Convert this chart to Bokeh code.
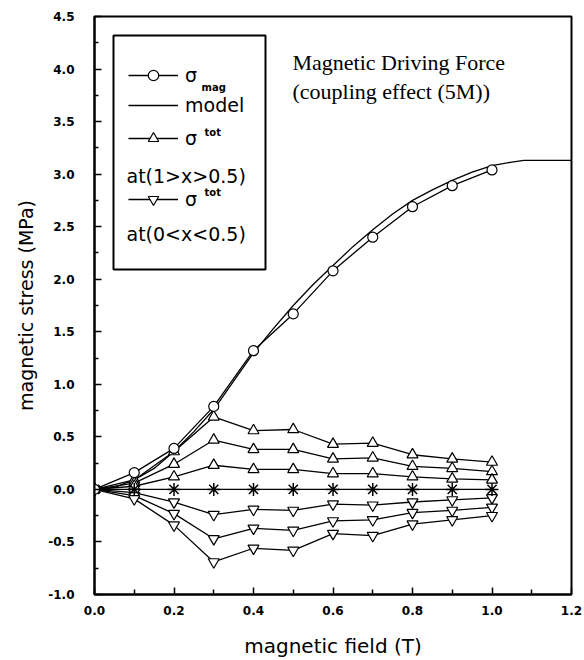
from bokeh.plotting import figure
from bokeh.models import Range1d, FixedTicker, Legend, LegendItem, Label, BoxAnnotation
from bokeh.embed import file_html
from bokeh.resources import INLINE

# ---- data -------------------------------------------------------------
# applied magnetic field (T) at the measured points
field = [0.0, 0.1, 0.2, 0.3, 0.4, 0.5, 0.6, 0.7, 0.8, 0.9, 1.0]

# magnetic stress sigma_mag (MPa)
sigma_mag = [0.0, 0.16, 0.39, 0.79, 1.32, 1.67, 2.08, 2.40, 2.69, 2.89, 3.04]

# model curve
model_field = [0.0, 0.05, 0.1, 0.15, 0.2, 0.25, 0.3, 0.35, 0.4, 0.45, 0.5, 0.55,
               0.6, 0.65, 0.7, 0.75, 0.8, 0.85, 0.9, 0.95, 1.0, 1.05, 1.08, 1.2]
model_stress = [0.0, 0.02, 0.09, 0.20, 0.36, 0.55, 0.76, 1.03, 1.30, 1.53, 1.75, 1.95,
                2.13, 2.31, 2.47, 2.62, 2.75, 2.85, 2.94, 3.02, 3.08, 3.115, 3.13, 3.13]

# total stress sigma_tot for 1 > x > 0.5
tot_upper = [
    [0.0, 0.09, 0.36, 0.69, 0.56, 0.57, 0.43, 0.44, 0.33, 0.29, 0.26],
    [0.0, 0.06, 0.24, 0.47, 0.38, 0.38, 0.29, 0.30, 0.22, 0.20, 0.17],
    [0.0, 0.03, 0.12, 0.23, 0.19, 0.19, 0.15, 0.15, 0.12, 0.10, 0.09],
]
# total stress at x = 0.5
tot_half = [0.0, 0.0, 0.0, 0.0, 0.0, 0.0, 0.0, 0.0, 0.0, 0.0, 0.0]
# total stress sigma_tot for 0 < x < 0.5
tot_lower = [
    [0.0, -0.03, -0.12, -0.24, -0.19, -0.20, -0.14, -0.15, -0.12, -0.10, -0.08],
    [0.0, -0.06, -0.23, -0.47, -0.37, -0.39, -0.30, -0.29, -0.22, -0.20, -0.17],
    [0.0, -0.09, -0.34, -0.69, -0.56, -0.58, -0.42, -0.44, -0.33, -0.29, -0.25],
]

x_ticks = [0.0, 0.2, 0.4, 0.6, 0.8, 1.0, 1.2]
x_tick_labels = ["0.0", "0.2", "0.4", "0.6", "0.8", "1.0", "1.2"]
y_ticks = [-1.0, -0.5, 0.0, 0.5, 1.0, 1.5, 2.0, 2.5, 3.0, 3.5, 4.0, 4.5]
y_tick_labels = ["-1.0", "-0.5", "0.0", "0.5", "1.0", "1.5", "2.0", "2.5",
                 "3.0", "3.5", "4.0", "4.5"]

# ---- layout -----------------------------------------------------------
W, H = 584, 660
FRAME_LEFT, FRAME_RIGHT, FRAME_TOP, FRAME_BOTTOM = 94, 571, 16, 594
X0, X1 = 0.0, 1.2
Y0, Y1 = -1.0, 4.5


def dx(px):
    """canvas pixel column -> field value"""
    return X0 + (px - FRAME_LEFT) * (X1 - X0) / (FRAME_RIGHT - FRAME_LEFT)


def dy(py):
    """canvas pixel row -> stress value"""
    return Y1 - (py - FRAME_TOP) * (Y1 - Y0) / (FRAME_BOTTOM - FRAME_TOP)


p = figure(width=W, height=H, output_backend="svg", toolbar_location=None,
           x_range=Range1d(X0, X1), y_range=Range1d(Y0, Y1),
           min_border_left=FRAME_LEFT, min_border_right=W - FRAME_RIGHT,
           min_border_top=FRAME_TOP, min_border_bottom=H - FRAME_BOTTOM)
p.grid.visible = False
p.outline_line_color = "black"
p.outline_line_width = 2
p.background_fill_color = "white"
p.border_fill_color = "white"

minor_x = [v / 10 for v in range(1, 12, 2)]
minor_y = [y_ticks[i] + 0.25 for i in range(len(y_ticks) - 1)]
p.xaxis.ticker = FixedTicker(ticks=x_ticks, minor_ticks=minor_x)
p.yaxis.ticker = FixedTicker(ticks=y_ticks, minor_ticks=minor_y)
p.xaxis.major_label_overrides = dict(zip(x_ticks, x_tick_labels))
p.yaxis.major_label_overrides = dict(zip(y_ticks, y_tick_labels))

for ax in (p.xaxis[0], p.yaxis[0]):
    ax.axis_line_width = 2
    ax.axis_line_color = "black"
    ax.major_tick_in = 7
    ax.major_tick_out = 0
    ax.minor_tick_in = 5
    ax.minor_tick_out = 0
    ax.major_tick_line_width = 1.5
    ax.minor_tick_line_width = 1.5
    ax.major_label_text_font = "DejaVu Sans"
    ax.major_label_text_font_style = "bold"
    ax.major_label_text_font_size = "12px"
    ax.major_label_text_color = "black"
    ax.axis_label_text_font = "DejaVu Sans"
    ax.axis_label_text_font_style = "normal"
    ax.axis_label_text_color = "black"
p.yaxis.minor_tick_in = 4
p.xaxis.major_label_standoff = 11
p.yaxis.major_label_standoff = 20
p.xaxis.axis_label = "magnetic field (T)"
p.yaxis.axis_label = "magnetic stress (MPa)"
p.xaxis.axis_label_text_font_size = "20px"
p.yaxis.axis_label_text_font_size = "19px"
p.xaxis.axis_label_standoff = 16
p.yaxis.axis_label_standoff = 8

LW = 1.3
MARK = dict(line_color="black", fill_color="white", line_width=1.2)

# model curve
model_line = p.line(model_field, model_stress, line_color="black", line_width=LW)

# total stress families
upper_r = []
for ys in tot_upper:
    ln = p.line(field, ys, line_color="black", line_width=LW)
    mk = p.scatter(field, ys, marker="triangle", size=11, **MARK)
    upper_r.append((ln, mk))
lower_r = []
for ys in tot_lower:
    ln = p.line(field, ys, line_color="black", line_width=LW)
    mk = p.scatter(field, ys, marker="inverted_triangle", size=11, **MARK)
    lower_r.append((ln, mk))
p.line(field, tot_half, line_color="black", line_width=LW)
p.scatter(field, tot_half, marker="asterisk", size=13, line_color="black", line_width=1.5)

# magnetic stress
mag_line = p.line(field, sigma_mag, line_color="black", line_width=LW)
mag_pts = p.scatter(field, sigma_mag, marker="circle", size=10, **MARK)

# ---- legend -----------------------------------------------------------
KEY_LEFT, KEY_W, KEY_H = 128, 50, 26


def key_row(renderers, label, center_py):
    leg = Legend(items=[LegendItem(label=label, renderers=list(renderers))],
                 location=(KEY_LEFT - FRAME_LEFT, FRAME_BOTTOM - center_py - KEY_H // 2),
                 glyph_width=KEY_W, glyph_height=KEY_H, label_height=KEY_H,
                 label_standoff=7, padding=0, margin=0, spacing=0,
                 border_line_color=None, background_fill_alpha=0,
                 label_text_font="DejaVu Sans", label_text_font_size="19px",
                 label_text_color="black")
    p.add_layout(leg)


key_row([mag_line, mag_pts], "σ", 75)
key_row([model_line], "model", 105)
key_row(upper_r[0], "σ", 138)
key_row(lower_r[0], "σ", 199)

p.add_layout(BoxAnnotation(left=dx(113), right=dx(265), top=dy(35), bottom=dy(269),
                           fill_alpha=0, line_color="black", line_alpha=1, line_width=2))


def text(px, py, s, size, font="DejaVu Sans", style="normal"):
    p.add_layout(Label(x=dx(px), y=dy(py), text=s, text_font=font,
                       text_font_size=size, text_font_style=style,
                       text_baseline="middle", text_align="left", text_color="black"))


text(201, 87, "mag", "10px", style="bold")
text(204, 132, "tot", "10px", style="bold")
text(204, 192, "tot", "10px", style="bold")
text(126, 175, "at(1>x>0.5)", "19px")
text(126, 233, "at(0<x<0.5)", "19px")

text(292, 62, "Magnetic Driving Force", "22px", font="Liberation Serif")
text(292, 91, "(coupling effect (5M))", "22px", font="Liberation Serif")

open("out.html", "w").write(file_html(p, INLINE))
